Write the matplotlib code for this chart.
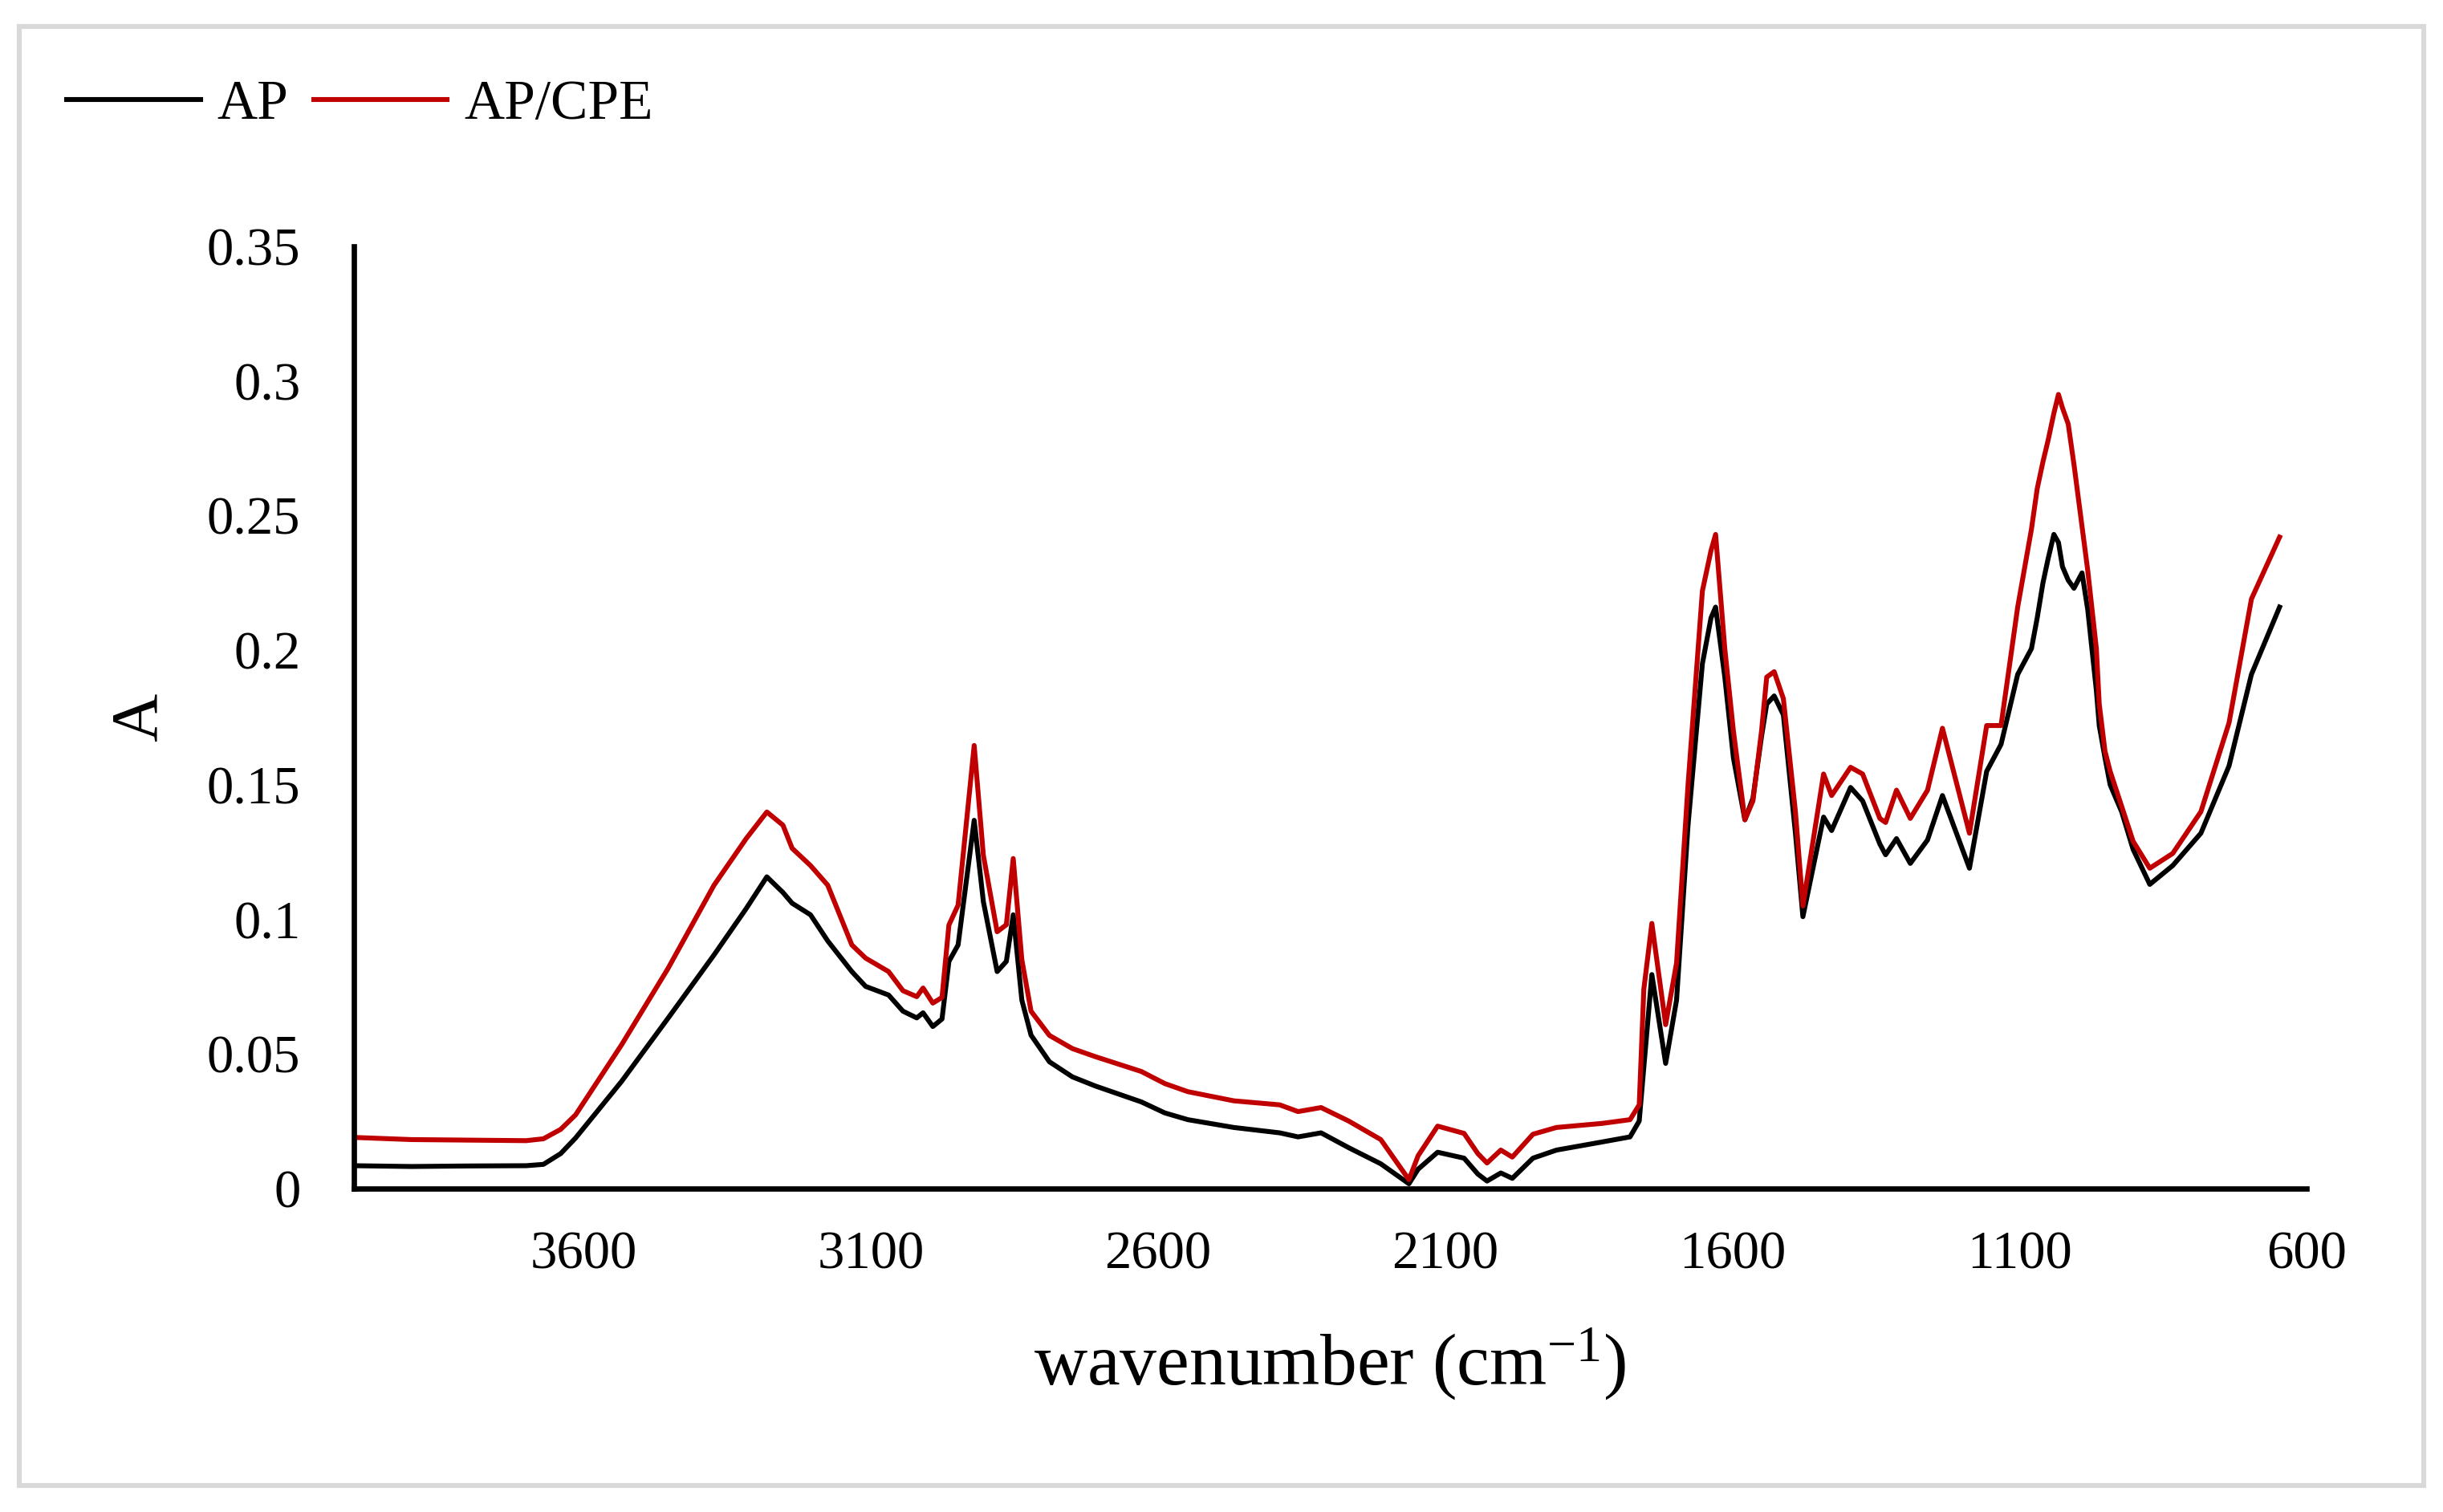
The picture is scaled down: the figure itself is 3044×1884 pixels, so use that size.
import matplotlib
matplotlib.use("Agg")
import matplotlib.pyplot as plt
from matplotlib.patches import Rectangle
from matplotlib.lines import Line2D

plt.rcParams['font.family'] = ['Liberation Serif', 'DejaVu Serif']
plt.rcParams['mathtext.fontset'] = 'custom'
plt.rcParams['mathtext.rm'] = 'Liberation Serif'
plt.rcParams['mathtext.it'] = 'Liberation Serif:italic'

wavenumber = [4000, 3900, 3800, 3700, 3670, 3640, 3614, 3534, 3453, 3373, 3317, 3281,
              3253, 3237, 3205, 3175, 3133, 3109, 3069, 3044, 3020, 3009, 2992, 2976,
              2964, 2948, 2920, 2904, 2880, 2864, 2852, 2837, 2821, 2789, 2749, 2709,
              2629, 2588, 2548, 2468, 2388, 2356, 2316, 2268, 2212, 2163, 2147, 2113,
              2067, 2043, 2027, 2003, 1983, 1947, 1906, 1827, 1778, 1762, 1754, 1740,
              1716, 1697, 1677, 1652, 1637, 1629, 1613, 1598, 1578, 1564, 1549, 1540,
              1527, 1511, 1490, 1477, 1441, 1427, 1394, 1373, 1343, 1333, 1314, 1290,
              1260, 1234, 1187, 1157, 1132, 1103, 1079, 1069, 1059, 1050, 1040, 1032,
              1025, 1015, 1005, 991, 981, 966, 961, 951, 942, 922, 902, 873, 833, 784,
              735, 696, 647]

ap = [0.0085, 0.0082, 0.0084, 0.0085, 0.0090, 0.0130, 0.0188, 0.0398, 0.0633, 0.0868,
      0.1040, 0.1158, 0.1100, 0.1060, 0.1017, 0.0920, 0.0806, 0.0751, 0.0719, 0.0659,
      0.0634, 0.0653, 0.0602, 0.0630, 0.0844, 0.0905, 0.1368, 0.1066, 0.0806, 0.0844,
      0.1017, 0.0700, 0.0570, 0.0471, 0.0415, 0.0381, 0.0322, 0.0281, 0.0256, 0.0227,
      0.0207, 0.0192, 0.0207, 0.0152, 0.0092, 0.0018, 0.0072, 0.0135, 0.0113, 0.0054,
      0.0028, 0.0058, 0.0038, 0.0113, 0.0143, 0.0173, 0.0192, 0.0251, 0.0450, 0.0795,
      0.0465, 0.0700, 0.1350, 0.1950, 0.2120, 0.2160, 0.1900, 0.1600, 0.1370, 0.1450,
      0.1680, 0.1800, 0.1830, 0.1760, 0.1320, 0.1010, 0.1380, 0.1330, 0.1490, 0.1440,
      0.1280, 0.1240, 0.1300, 0.1208, 0.1295, 0.1460, 0.1190, 0.1550, 0.1650, 0.1910,
      0.2006, 0.2120, 0.2250, 0.2340, 0.2430, 0.2400, 0.2310, 0.2260, 0.2230, 0.2287,
      0.2150, 0.1850, 0.1720, 0.1600, 0.1500, 0.1400, 0.1260, 0.1130, 0.1200, 0.1320,
      0.1570, 0.1910, 0.2160]

ap_cpe = [0.0190, 0.0182, 0.0180, 0.0178, 0.0185, 0.0220, 0.0274, 0.0534, 0.0818, 0.1127,
          0.1300, 0.1399, 0.1350, 0.1264, 0.1200, 0.1127, 0.0905, 0.0856, 0.0806, 0.0735,
          0.0713, 0.0745, 0.0689, 0.0710, 0.0979, 0.1053, 0.1646, 0.1238, 0.0954, 0.0980,
          0.1226, 0.0850, 0.0659, 0.0569, 0.0520, 0.0490, 0.0435, 0.0390, 0.0360, 0.0326,
          0.0311, 0.0286, 0.0301, 0.0251, 0.0182, 0.0033, 0.0122, 0.0232, 0.0205, 0.0130,
          0.0095, 0.0143, 0.0117, 0.0202, 0.0227, 0.0242, 0.0256, 0.0311, 0.0740, 0.0985,
          0.0609, 0.0838, 0.1500, 0.2220, 0.2370, 0.2430, 0.2006, 0.1700, 0.1370, 0.1440,
          0.1700, 0.1900, 0.1920, 0.1820, 0.1400, 0.1050, 0.1540, 0.1460, 0.1565, 0.1540,
          0.1375, 0.1360, 0.1480, 0.1375, 0.1480, 0.1710, 0.1320, 0.1720, 0.1720, 0.2160,
          0.2450, 0.2600, 0.2700, 0.2780, 0.2880, 0.2950, 0.2900, 0.2840, 0.2690, 0.2460,
          0.2296, 0.2006, 0.1800, 0.1625, 0.1550, 0.1420, 0.1290, 0.1190, 0.1245, 0.1400,
          0.1730, 0.2190, 0.2420]

x_ticks = [3600, 3100, 2600, 2100, 1600, 1100, 600]
y_ticks = [0, 0.05, 0.1, 0.15, 0.2, 0.25, 0.3, 0.35]
y_tick_labels = ['0', '0.05', '0.1', '0.15', '0.2', '0.25', '0.3', '0.35']
series_names = ['AP', 'AP/CPE']
series_colors = ['#000000', '#C00000']

W, H = 3044, 1884
fig = plt.figure(figsize=(W / 200, H / 200), dpi=200)
ax = fig.add_axes([441 / W, 1 - 1481 / H, (2874 - 441) / W, (1481 - 307) / H])

ax.plot(wavenumber, ap, color=series_colors[0], lw=2.2, label=series_names[0],
        solid_joinstyle='round')
ax.plot(wavenumber, ap_cpe, color=series_colors[1], lw=2.2, label=series_names[1],
        solid_joinstyle='round')

ax.set_xlim(4000, 600)
ax.set_ylim(0, 0.35)
ax.set_xticks(x_ticks)
ax.set_xticklabels([str(t) for t in x_ticks])
ax.set_yticks(y_ticks)
ax.set_yticklabels(y_tick_labels)
ax.tick_params(axis='both', length=0, labelsize=24)
ax.tick_params(axis='x', pad=19)
ax.tick_params(axis='y', pad=24)

for s in ['top', 'right']:
    ax.spines[s].set_visible(False)
for s in ['left', 'bottom']:
    ax.spines[s].set_linewidth(2.4)
    ax.spines[s].set_color('black')

ax.set_xlabel('wavenumber (cm$^{\\mathregular{-1}}$)', fontsize=33)
ax.xaxis.label.set_va('center')
ax.xaxis.set_label_coords(0.5, (1481 - 1700) / 1174)
ax.set_ylabel('A', fontsize=30)
ax.yaxis.label.set_va('center')
ax.yaxis.label.set_ha('center')
ax.yaxis.set_label_coords((175 - 441) / 2433, 0.5)

handles = [Line2D([], [], color=c, lw=2.2) for c in series_colors]
fig.legend(handles, series_names, loc='center left',
           bbox_to_anchor=(83 / W, 1 - 131 / H), frameon=False, ncol=2,
           fontsize=25, handlelength=2.4, handletextpad=0.3, columnspacing=0.45,
           borderpad=0, borderaxespad=0)

fig.patches.append(Rectangle((24 / W, 1 - 1851 / H), (3020 - 24) / W, (1851 - 33) / H,
                             transform=fig.transFigure, fill=False,
                             edgecolor='#d9d9d9', lw=2.2))

fig.savefig('out.png', dpi=200, facecolor='white')
